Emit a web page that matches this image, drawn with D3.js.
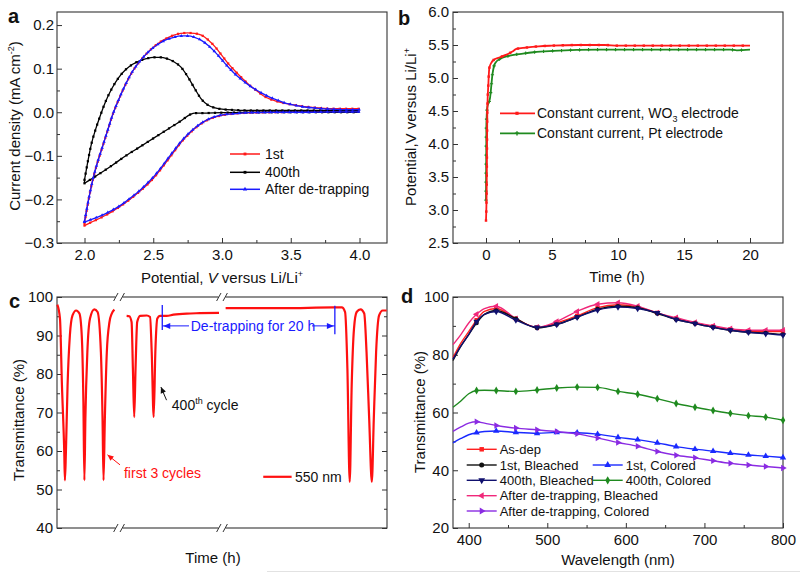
<!DOCTYPE html>
<html><head><meta charset="utf-8">
<script src="https://cdn.jsdelivr.net/npm/d3@7"></script>
<style>body{margin:0;background:#fff} svg{display:block} text{font-family:"Liberation Sans",Arial,sans-serif;fill:#111}</style>
</head><body><svg id="chart" width="800" height="574"></svg>
<script>
// ---------- Panel a: CV curves [potential V, current mA cm-2] ----------
const cv1stAnodic = [[2.0,-0.255],[2.03,-0.2],[2.06,-0.155],[2.09,-0.12],[2.13,-0.08],[2.17,-0.04],[2.2,-0.01],[2.25,0.03],[2.3,0.065],[2.35,0.094],[2.4,0.116],[2.45,0.134],[2.5,0.149],[2.55,0.161],[2.6,0.17],[2.65,0.177],[2.7,0.181],[2.75,0.182],[2.8,0.181],[2.85,0.177],[2.9,0.166],[2.95,0.15],[3.0,0.13],[3.05,0.11],[3.1,0.093],[3.15,0.077],[3.2,0.062],[3.25,0.05],[3.3,0.038],[3.35,0.03],[3.4,0.025],[3.45,0.021],[3.5,0.018],[3.6,0.013],[3.7,0.01],[3.8,0.008],[3.9,0.008],[4.0,0.008]];
const cv1stCathodic = [[2.0,-0.26],[2.05,-0.252],[2.1,-0.245],[2.15,-0.237],[2.2,-0.228],[2.25,-0.218],[2.3,-0.207],[2.35,-0.195],[2.4,-0.182],[2.45,-0.168],[2.5,-0.152],[2.55,-0.133],[2.6,-0.112],[2.65,-0.091],[2.7,-0.07],[2.75,-0.053],[2.8,-0.038],[2.85,-0.026],[2.9,-0.017],[2.95,-0.011],[3.0,-0.007],[3.1,-0.003],[3.2,-0.001],[3.4,0.0],[3.6,0.001],[3.8,0.002],[4.0,0.002]];
const cv400Anodic = [[2.0,-0.155],[2.02,-0.12],[2.05,-0.073],[2.08,-0.04],[2.11,-0.012],[2.15,0.022],[2.2,0.055],[2.25,0.08],[2.3,0.098],[2.35,0.11],[2.4,0.118],[2.45,0.123],[2.5,0.126],[2.55,0.126],[2.6,0.123],[2.65,0.116],[2.7,0.104],[2.75,0.082],[2.8,0.055],[2.85,0.03],[2.9,0.016],[2.95,0.01],[3.0,0.007],[3.1,0.005],[3.2,0.004],[3.5,0.004],[4.0,0.004]];
const cv400Cathodic = [[2.0,-0.163],[2.05,-0.153],[2.1,-0.143],[2.2,-0.122],[2.3,-0.1],[2.4,-0.08],[2.5,-0.06],[2.6,-0.04],[2.7,-0.02],[2.77,-0.005],[2.8,-0.002],[2.85,-0.002],[3.0,-0.001],[3.5,0.0],[4.0,0.0]];
const cvDetrapAnodic = [[2.0,-0.25],[2.03,-0.2],[2.06,-0.155],[2.09,-0.12],[2.13,-0.08],[2.17,-0.04],[2.2,-0.01],[2.25,0.03],[2.3,0.065],[2.35,0.094],[2.4,0.116],[2.45,0.134],[2.5,0.148],[2.55,0.159],[2.6,0.167],[2.65,0.172],[2.7,0.175],[2.75,0.175],[2.8,0.172],[2.85,0.165],[2.9,0.153],[2.95,0.138],[3.0,0.12],[3.05,0.102],[3.1,0.086],[3.15,0.073],[3.2,0.061],[3.25,0.051],[3.3,0.042],[3.35,0.034],[3.4,0.028],[3.45,0.022],[3.5,0.018],[3.6,0.012],[3.7,0.009],[3.8,0.007],[3.9,0.006],[4.0,0.006]];
const cvDetrapCathodic = [[2.0,-0.252],[2.05,-0.246],[2.1,-0.24],[2.15,-0.233],[2.2,-0.225],[2.25,-0.216],[2.3,-0.205],[2.35,-0.193],[2.4,-0.18],[2.45,-0.165],[2.5,-0.149],[2.55,-0.13],[2.6,-0.109],[2.65,-0.088],[2.7,-0.068],[2.75,-0.051],[2.8,-0.037],[2.85,-0.025],[2.9,-0.016],[2.95,-0.01],[3.0,-0.006],[3.1,-0.003],[3.2,-0.001],[3.4,0.0],[3.6,0.0],[3.8,0.001],[4.0,0.001]];
const cvLegend = ["1st","400th","After de-trapping"];
const cvXTicks = [2.0,2.5,3.0,3.5,4.0];
const cvYTicks = [-0.3,-0.2,-0.1,0.0,0.1,0.2];

// ---------- Panel b: potential vs time [h, V] ----------
const potWO3 = [[0,2.84],[0.05,3.3],[0.1,4.5],[0.18,4.91],[0.25,5.15],[0.4,5.23],[0.56,5.27],[1.0,5.31],[1.5,5.35],[2.0,5.4],[2.3,5.44],[3,5.46],[4,5.48],[5,5.49],[7,5.5],[9,5.5],[10,5.49],[15,5.49],[20,5.49]];
const potPt = [[0,3.15],[0.03,4.3],[0.1,4.56],[0.3,4.69],[0.5,5.07],[0.68,5.22],[1.06,5.29],[1.8,5.34],[2.8,5.37],[3.6,5.39],[5.1,5.41],[8.6,5.43],[15,5.43],[18.5,5.43],[19,5.42],[20,5.43]];
const potLegend = ["Constant current, WO","Constant current, Pt electrode"];
const potXTicks = [0,5,10,15,20];
const potYTicks = [2.5,3.0,3.5,4.0,4.5,5.0,5.5,6.0];

// ---------- Panel c: transmittance at 550 nm vs (broken) time axis ----------
const transSeg1 = [[0.1,98],[0.9,94.4],[1.5,77],[2.2,59.7],[2.4,52.4],[2.7,59.7],[3.2,77],[3.9,90],[4.7,95.2],[5.8,96.5],[6.8,95.7],[7.5,90],[8.0,72.7],[8.3,52.4],[8.6,68.4],[9.2,85.7],[10.0,94.4],[11.3,96.8],[12.3,96.1],[13.3,85.7],[13.8,68.4],[14.1,52.4],[14.5,68.4],[15.1,85.7],[15.9,93.5],[16.6,95.7],[17.4,96.7]];
const transSeg2 = [[21.1,95.1],[21.9,95],[22.6,93.5],[23.0,81.4],[23.4,68.8],[23.8,81.4],[24.3,93.5],[25.2,95.1],[27.2,95.2],[28.2,94.8],[28.7,85.7],[29.3,68.8],[29.8,85.7],[30.4,94.4],[31.2,95.1],[33.2,95.1],[35.3,95.4],[39.3,95.7],[43.3,95.8],[49.1,95.9]];
const transSeg3 = [[51.1,97.1],[58.5,97.1],[68.6,97.1],[83.7,97.3],[86.3,97.3],[87.3,96.1],[88.0,81.4],[88.7,52],[89.3,77],[90.0,91.8],[90.8,96.1],[92.0,96.8],[93.1,95.7],[93.8,85.7],[94.6,68.4],[95.4,52],[96.0,68.4],[96.7,85.7],[97.6,95.2],[98.7,96.5],[99.9,96.5]];
const transBreaks = [18.8, 50.0];
const transYTicks = [40,50,60,70,80,90,100];

// ---------- Panel d: spectra ----------
const wavelengths = [380,390,400,410,420,435,460,487,512,538,564,590,615,640,664,688,711,733,756,778,800];
const markerWavelengths = [410,435,460,487,512,538,564,590,615,640,664,688,711,733,756,778,800];
const tAsDep      = [79,84,88,92,95,96,92.5,89.5,91,93.5,96.3,97.3,96.5,94.5,92.5,91,89.8,88.8,88.2,88,88];
const t1stBl      = [78,83,87,91,94,95.3,92.5,89.3,90.5,93,95.8,96.8,96.3,94.3,92.2,90.8,89.5,88.5,87.8,87.5,87];
const t400Bl      = [78.5,83,87,91.5,94,95,92,89.5,90.5,93,95.5,96.5,96,94.5,92.2,90.8,89.5,88.5,87.8,87.3,86.8];
const tDetrapBl   = [83.5,87,91,94,96,96.8,92.5,89.5,91.5,95,97.5,98,96.8,94.5,92.8,91.2,90,89,88.5,88.5,88.5];
const t1stCol     = [49.5,51,52.3,53,53.4,53.6,53.1,52.8,53.1,53,52.5,51.4,50.6,49.5,48.2,47.3,46.6,45.9,45.3,44.9,44.4];
const t400Col     = [61.8,64,66.5,67.6,67.7,67.6,67.3,67.8,68.5,68.8,68.7,67.3,66.3,64.8,63.1,61.8,60.7,59.7,58.9,58.4,57.3];
const tDetrapCol  = [53.5,55,56.3,56.8,56.3,55.5,54.6,54,53.4,52.6,51.2,49.6,48.3,46.5,45.2,44.3,43.3,42.4,41.8,41.3,40.8];
const specLabels = ["As-dep","1st, Bleached","400th, Bleached","After de-trapping, Bleached","After de-trapping, Colored","1st, Colored","400th, Colored"];
const specXTicks = [400,500,600,700,800];
const specYTicks = [20,40,60,80,100];

// =====================================================================
const svg = d3.select("#chart");
const FONT_TICK = 15, FONT_TITLE = 15;

function tri(rot){ return d3.symbol().type(d3.symbolTriangle); }

function drawFrame(g, x, y, o){
  const [x0,x1] = x.range(), [y0,y1] = y.range();
  // ticks
  const bx = d3.axisBottom(x).tickValues(o.xTicks||[]).tickSizeInner(-5).tickSizeOuter(0).tickPadding(6)
      .tickFormat(o.xFormat || (d=>d));
  const gx = g.append("g").attr("transform",`translate(0,${y0})`).call(bx);
  if(o.xMinor){ g.append("g").attr("transform",`translate(0,${y0})`).call(d3.axisBottom(x).tickValues(o.xMinor).tickSizeInner(-3).tickSizeOuter(0).tickFormat("")); }
  const ly = d3.axisLeft(y).tickValues(o.yTicks).tickSizeInner(-5).tickSizeOuter(0).tickPadding(o.yPad||4).tickFormat(o.yFormat||(d=>d));
  g.append("g").attr("transform",`translate(${x0},0)`).call(ly);
  if(o.yMinor){ g.append("g").attr("transform",`translate(${x0},0)`).call(d3.axisLeft(y).tickValues(o.yMinor).tickSizeInner(-3).tickSizeOuter(0).tickFormat("")); }
  if(o.rightTicks){
    g.append("g").attr("transform",`translate(${x1},0)`).call(d3.axisRight(y).tickValues(o.yTicks).tickSizeInner(-5).tickSizeOuter(0).tickFormat(""));
    g.append("g").attr("transform",`translate(${x1},0)`).call(d3.axisRight(y).tickValues(o.yMinor).tickSizeInner(-3).tickSizeOuter(0).tickFormat(""));
  }
  g.selectAll(".domain").remove();
  g.selectAll(".tick line").attr("stroke","#333").attr("stroke-width",1);
  g.selectAll(".tick text").attr("font-size",FONT_TICK).attr("fill","#111").attr("font-family",'"Liberation Sans",Arial,sans-serif');
  g.append("rect").attr("x",x0).attr("y",y1).attr("width",x1-x0).attr("height",y0-y1)
   .attr("fill","none").attr("stroke","#333").attr("stroke-width",1.1);
}

function sampleMarkers(g, pathNode, step, sym, color, size, rot){
  const L = pathNode.getTotalLength();
  const gen = d3.symbol().type(sym).size(size);
  for(let s=0; s<=L; s+=step){
    const p = pathNode.getPointAtLength(s);
    g.append("path").attr("d",gen()).attr("fill",color)
     .attr("transform",`translate(${p.x},${p.y}) rotate(${rot||0})`);
  }
}

// ======================= Panel a =======================
{
  const g = svg.append("g");
  const x = d3.scaleLinear().domain([1.8,4.2]).range([57,387]);
  const y = d3.scaleLinear().domain([-0.3,0.23]).range([243,12]);
  drawFrame(g,x,y,{xTicks:cvXTicks,xMinor:[2.25,2.75,3.25,3.75],yTicks:cvYTicks,yMinor:[-0.25,-0.15,-0.05,0.05,0.15],
    xFormat:d3.format(".1f"), yFormat:d3.format(".1f"), yPad:3});
  const line = d3.line().x(d=>x(d[0])).y(d=>y(d[1])).curve(d3.curveMonotoneX);
  const series = [
    {a:cv1stAnodic,c:cv1stCathodic,col:"#ff1a1a",sym:d3.symbolSquare},
    {a:cv400Anodic,c:cv400Cathodic,col:"#000000",sym:d3.symbolSquare},
    {a:cvDetrapAnodic,c:cvDetrapCathodic,col:"#1a1aff",sym:d3.symbolTriangle}
  ];
  series.forEach(s=>{
    [s.a,s.c].forEach(arr=>{
      const p = g.append("path").attr("d",line(arr)).attr("fill","none").attr("stroke",s.col).attr("stroke-width",1.3);
      sampleMarkers(g,p.node(),6.3,s.sym,s.col,5);
    });
    // close loop at 2.0 V
    g.append("line").attr("x1",x(s.a[0][0])).attr("y1",y(s.a[0][1])).attr("x2",x(s.c[0][0])).attr("y2",y(s.c[0][1]))
      .attr("stroke",s.col).attr("stroke-width",1.3);
  });
  // legend
  const ly = [154,172.3,189.3];
  series.forEach((s,i)=>{
    g.append("line").attr("x1",230).attr("x2",260).attr("y1",ly[i]).attr("y2",ly[i]).attr("stroke",s.col).attr("stroke-width",1.5);
    g.append("path").attr("d",d3.symbol().type(s.sym).size(8)()).attr("fill",s.col).attr("transform",`translate(245,${ly[i]})`);
    g.append("text").attr("x",265).attr("y",ly[i]).attr("dy","0.35em").attr("font-size",14).text(cvLegend[i]);
  });
  // titles
  const xt = g.append("text").attr("x",222).attr("y",283).attr("text-anchor","middle").attr("font-size",FONT_TITLE);
  xt.append("tspan").text("Potential, ");
  xt.append("tspan").attr("font-style","italic").text("V");
  xt.append("tspan").text(" versus Li/Li");
  xt.append("tspan").attr("font-size",9).attr("dy",-6).text("+");
  const yt = g.append("text").attr("transform","translate(20,126) rotate(-90)").attr("text-anchor","middle").attr("font-size",FONT_TITLE);
  yt.append("tspan").text("Current density (mA cm");
  yt.append("tspan").attr("font-size",9).attr("dy",-6).text("-2");
  yt.append("tspan").attr("dy",6).text(")");
  g.append("text").attr("x",8).attr("y",23).attr("font-size",20).attr("font-weight","bold").text("a");
}

// ======================= Panel b =======================
{
  const g = svg.append("g");
  const x = d3.scaleLinear().domain([-2.5,22.5]).range([453,783]);
  const y = d3.scaleLinear().domain([2.5,6.0]).range([243,12]);
  drawFrame(g,x,y,{xTicks:potXTicks,xMinor:[2.5,7.5,12.5,17.5],yTicks:potYTicks,yMinor:[2.75,3.25,3.75,4.25,4.75,5.25,5.75],
    yFormat:d3.format(".1f"), yPad:4});
  const line = d3.line().x(d=>x(d[0])).y(d=>y(d[1])).curve(d3.curveMonotoneX);
  const series = [
    {d:potPt,col:"#1f8a1f",sym:d3.symbolCross},
    {d:potWO3,col:"#ff1a1a",sym:d3.symbolSquare}
  ];
  series.forEach(s=>{
    const p = g.append("path").attr("d",line(s.d)).attr("fill","none").attr("stroke",s.col).attr("stroke-width",1.8);
    sampleMarkers(g,p.node(),9,s.sym,s.col,6);
  });
  // legend
  const rows = [{col:"#ff1a1a",sym:d3.symbolSquare,y:113.3},{col:"#1f8a1f",sym:d3.symbolCross,y:133.3}];
  rows.forEach((r,i)=>{
    g.append("line").attr("x1",500).attr("x2",535).attr("y1",r.y).attr("y2",r.y).attr("stroke",r.col).attr("stroke-width",1.8);
    g.append("path").attr("d",d3.symbol().type(r.sym).size(10)()).attr("fill",r.col).attr("transform",`translate(517,${r.y})`);
    const t = g.append("text").attr("x",537).attr("y",r.y).attr("dy","0.35em").attr("font-size",14).text(potLegend[i]);
    if(i===0){ t.append("tspan").attr("font-size",9).attr("dy",4).text("3"); t.append("tspan").attr("dy",-4).text(" electrode"); }
  });
  g.append("text").attr("x",617).attr("y",282).attr("text-anchor","middle").attr("font-size",FONT_TITLE).text("Time (h)");
  const yt = g.append("text").attr("transform","translate(416,127) rotate(-90)").attr("text-anchor","middle").attr("font-size",FONT_TITLE);
  yt.append("tspan").text("Potential,V versus Li/Li");
  yt.append("tspan").attr("font-size",9).attr("dy",-6).text("+");
  g.append("text").attr("x",398).attr("y",25).attr("font-size",20).attr("font-weight","bold").text("b");
}

// ======================= Panel c =======================
{
  const g = svg.append("g");
  const x = d3.scaleLinear().domain([0,100]).range([57,387]);
  const y = d3.scaleLinear().domain([40,100]).range([528,297]);
  drawFrame(g,x,y,{xTicks:[],yTicks:transYTicks,yMinor:[45,55,65,75,85,95],yPad:4,rightTicks:true});
  const line = d3.line().x(d=>x(d[0])).y(d=>y(d[1])).curve(d3.curveMonotoneX);
  [transSeg1,transSeg2,transSeg3].forEach(seg=>{
    g.append("path").attr("d",line(seg)).attr("fill","none").attr("stroke","#ff1010").attr("stroke-width",2.2);
  });
  // axis breaks
  transBreaks.forEach(b=>{
    [y.range()[0], y.range()[1]].forEach(yy=>{
      const cx = x(b);
      g.append("rect").attr("x",cx-3.5).attr("y",yy-2).attr("width",7).attr("height",4).attr("fill","#fff");
      [-3.2,3.2].forEach(dx=>{
        g.append("line").attr("x1",cx+dx-2.2).attr("y1",yy+4).attr("x2",cx+dx+2.2).attr("y2",yy-4).attr("stroke","#333").attr("stroke-width",1);
      });
    });
  });
  // de-trapping annotation
  const blue = "#1a1aff";
  const xl = x(31.9), xr = x(84.2), ya = y(92.5);
  g.append("line").attr("x1",xl).attr("x2",xl).attr("y1",y(97.9)).attr("y2",y(91.4)).attr("stroke",blue).attr("stroke-width",1.3);
  g.append("line").attr("x1",xr).attr("x2",xr).attr("y1",y(97.7)).attr("y2",y(90.3)).attr("stroke",blue).attr("stroke-width",1.3);
  g.append("line").attr("x1",xl).attr("x2",189).attr("y1",ya).attr("y2",ya).attr("stroke",blue).attr("stroke-width",1);
  g.append("line").attr("x1",312).attr("x2",xr).attr("y1",ya).attr("y2",ya).attr("stroke",blue).attr("stroke-width",1);
  g.append("path").attr("d",`M${xl+1},${ya} l7,-3 l0,6 z`).attr("fill",blue);
  g.append("path").attr("d",`M${xr-1},${ya} l-7,-3 l0,6 z`).attr("fill",blue);
  g.append("text").attr("x",x(59.4)).attr("y",ya).attr("dy","0.35em").attr("text-anchor","middle").attr("font-size",14).style("fill",blue).text("De-trapping for 20 h");
  // 400th cycle
  const ax0=x(33.2), ay0=y(73.2), ax1=x(31.5), ay1=y(76.6);
  g.append("line").attr("x1",ax0).attr("y1",ay0).attr("x2",ax1).attr("y2",ay1).attr("stroke","#111").attr("stroke-width",1);
  const ang = Math.atan2(ay1-ay0, ax1-ax0)*180/Math.PI;
  g.append("path").attr("d","M0,0 l-6,-2.8 l0,5.6 z").attr("fill","#111").attr("transform",`translate(${ax1},${ay1}) rotate(${ang})`);
  const t4 = g.append("text").attr("x",x(34.8)).attr("y",y(70.6)).attr("font-size",14);
  t4.append("tspan").text("400");
  t4.append("tspan").attr("font-size",9).attr("dy",-6).text("th");
  t4.append("tspan").attr("dy",6).text(" cycle");
  // first 3 cycles
  const rx0=x(19.1), ry0=y(56.4), rx1=x(15.3), ry1=y(59.0);
  g.append("line").attr("x1",rx0).attr("y1",ry0).attr("x2",rx1).attr("y2",ry1).attr("stroke","#ff1010").attr("stroke-width",1);
  const ang2 = Math.atan2(ry1-ry0, rx1-rx0)*180/Math.PI;
  g.append("path").attr("d","M0,0 l-6,-2.8 l0,5.6 z").attr("fill","#ff1010").attr("transform",`translate(${rx1},${ry1}) rotate(${ang2})`);
  g.append("text").attr("x",x(20.3)).attr("y",y(53.1)).attr("font-size",14).style("fill","#ff1010").text("first 3 cycles");
  // legend
  g.append("line").attr("x1",x(62.5)).attr("x2",x(71.1)).attr("y1",y(53.3)).attr("y2",y(53.3)).attr("stroke","#ff1010").attr("stroke-width",2.2);
  g.append("text").attr("x",x(72.1)).attr("y",y(53.3)).attr("dy","0.35em").attr("font-size",14).text("550 nm");
  g.append("text").attr("x",213).attr("y",563).attr("text-anchor","middle").attr("font-size",FONT_TITLE).text("Time (h)");
  g.append("text").attr("transform","translate(24,420) rotate(-90)").attr("text-anchor","middle").attr("font-size",FONT_TITLE).text("Transmittance (%)");
  g.append("text").attr("x",9).attr("y",308).attr("font-size",20).attr("font-weight","bold").text("c");
}

// ======================= Panel d =======================
{
  const g = svg.append("g");
  const x = d3.scaleLinear().domain([380,800]).range([453,783]);
  const y = d3.scaleLinear().domain([20,100]).range([528,297]);
  drawFrame(g,x,y,{xTicks:specXTicks,xMinor:[450,550,650,750],yTicks:specYTicks,yMinor:[30,50,70,90],yPad:4});
  const series = [
    {v:tAsDep,col:"#ff2020",sym:d3.symbolSquare,rot:0,lab:0},
    {v:tDetrapBl,col:"#f0287a",sym:d3.symbolTriangle,rot:-90,lab:3},
    {v:t1stBl,col:"#111111",sym:d3.symbolCircle,rot:0,lab:1},
    {v:t400Bl,col:"#10106e",sym:d3.symbolTriangle,rot:180,lab:2},
    {v:t1stCol,col:"#1a2aff",sym:d3.symbolTriangle,rot:0,lab:5},
    {v:t400Col,col:"#1f8a1f",sym:d3.symbolDiamond,rot:0,lab:6},
    {v:tDetrapCol,col:"#8a2be2",sym:d3.symbolTriangle,rot:90,lab:4}
  ];
  const line = d3.line().x(d=>x(d[0])).y(d=>y(d[1])).curve(d3.curveMonotoneX);
  series.forEach(s=>{
    const pts = wavelengths.map((w,i)=>[w,s.v[i]]);
    g.append("path").attr("d",line(pts)).attr("fill","none").attr("stroke",s.col).attr("stroke-width",1.4);
    const gen = d3.symbol().type(s.sym).size(s.sym===d3.symbolCircle?16:18);
    pts.filter(p=>markerWavelengths.includes(p[0])).forEach(p=>{
      g.append("path").attr("d",gen()).attr("fill",s.col).attr("transform",`translate(${x(p[0])},${y(p[1])}) rotate(${s.rot})`);
    });
  });
  // legend
  const legendItems = [
    {lab:0,x:466.7,y:449.3},{lab:1,x:466.7,y:465},{lab:2,x:466.7,y:480.3},{lab:3,x:466.7,y:495.7},{lab:4,x:466.7,y:511},
    {lab:5,x:592.7,y:465},{lab:6,x:592.7,y:480.3}
  ];
  legendItems.forEach(li=>{
    const s = series.find(q=>q.lab===li.lab);
    g.append("line").attr("x1",li.x).attr("x2",li.x+30).attr("y1",li.y).attr("y2",li.y).attr("stroke",s.col).attr("stroke-width",1.4);
    g.append("path").attr("d",d3.symbol().type(s.sym).size(20)()).attr("fill",s.col).attr("transform",`translate(${li.x+15},${li.y}) rotate(${s.rot})`);
    g.append("text").attr("x",li.x+33).attr("y",li.y).attr("dy","0.35em").attr("font-size",13).text(specLabels[li.lab]);
  });
  g.append("text").attr("x",618).attr("y",565).attr("text-anchor","middle").attr("font-size",FONT_TITLE).text("Wavelength (nm)");
  g.append("text").attr("transform","translate(425,412) rotate(-90)").attr("text-anchor","middle").attr("font-size",FONT_TITLE).text("Transmittance (%)");
  g.append("text").attr("x",401).attr("y",303).attr("font-size",20).attr("font-weight","bold").text("d");
}
// faint page edge line
svg.append("line").attr("x1",267).attr("x2",800).attr("y1",571.5).attr("y2",571.5).attr("stroke","#e2e2e2").attr("stroke-width",1);
</script></body></html>
